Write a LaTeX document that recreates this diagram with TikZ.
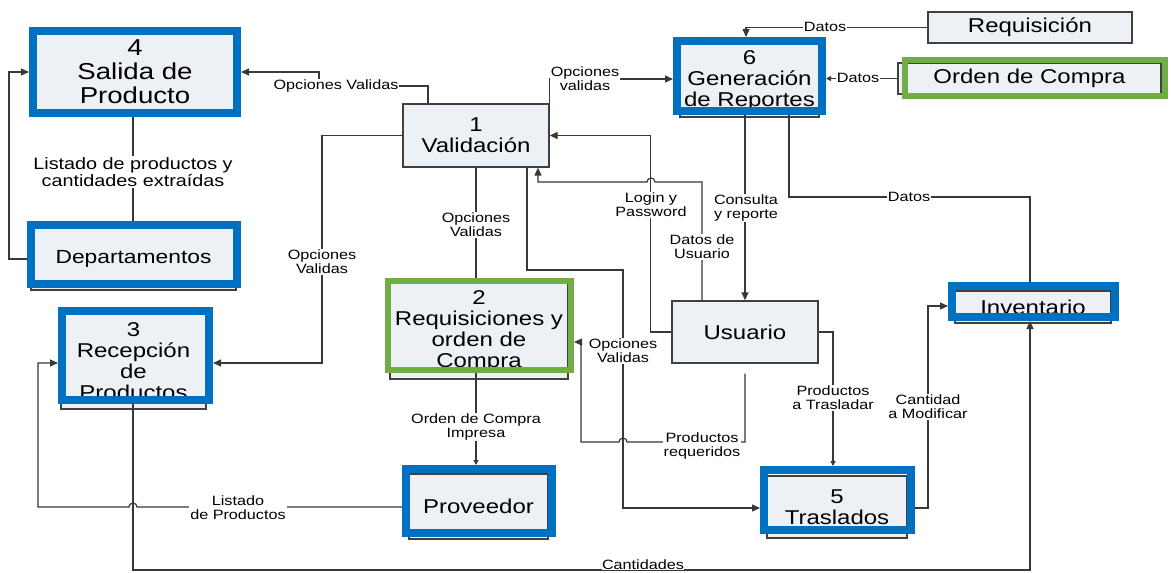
\documentclass[tikz,border=0pt]{standalone}
\usepackage{fontspec}
\setmainfont{Liberation Sans}[FakeStretch=1.2]
\usetikzlibrary{arrows.meta}
\definecolor{framblue}{HTML}{0070C0}
\definecolor{framgreen}{HTML}{70AD47}
\definecolor{boxfill}{HTML}{EDF0F5}
\definecolor{edgec}{HTML}{404040}
\definecolor{linec}{HTML}{383838}
\begin{document}
\begin{tikzpicture}[x=1pt,y=-1pt,
  box/.style={draw=edgec, line width=1.3pt, fill=boxfill, inner sep=0pt, align=center,
              text=black, font=\fontsize{20}{21}\selectfont},
  blueframe/.style={draw=framblue, line width=8pt, inner sep=0pt},
  greenframe/.style={draw=framgreen, line width=6pt, inner sep=0pt},
  line/.style={draw=linec, line width=1.2pt},
  arr/.style={line, -{Triangle[length=8pt,width=7pt]}},
  sarr/.style={line, -{Triangle[length=5pt,width=5pt]}},
  lab/.style={fill=white, inner sep=1pt, align=center, text=black,
              font=\fontsize{13.5}{14}\selectfont},
  biglab/.style={lab, font=\fontsize{16.5}{17}\selectfont},
]
\useasboundingbox (0,0) rectangle (1171,573);
\clip (0,0) rectangle (1171,573);
\fill[white] (0,0) rectangle (1171,573);

% process boxes with their text
\node[box, minimum width=198pt, minimum height=77pt, font=\fontsize{23}{24}\selectfont]
  (b4) at (135,71.5) {4\\Salida de\\Producto};
\node[box, minimum width=205pt, minimum height=62pt, font=\fontsize{19}{21}\selectfont]
  (bdep) at (133.5,259) {Departamentos};
\node[box, minimum width=145pt, minimum height=95pt] (b3) at (133.5,361.5)
  {3\\Recepción\\de\\Productos};
\node[box, minimum width=139pt, minimum height=73pt] (b6) at (749.5,80.5)
  {6\\Generación\\de Reportes};
\node[box, minimum width=156pt, minimum height=32pt] (binv) at (1033,307) {Inventario};
\node[box, minimum width=139pt, minimum height=65pt] (bprov) at (478.5,506.5) {Proveedor};
\node[box, minimum width=140pt, minimum height=62pt] (b5) at (837,507) {5\\Traslados};
\node[box, minimum width=178pt, minimum height=96pt] (b2) at (479,331)
  {2\\Requisiciones y\\orden de\\Compra};
\node[box, minimum width=263pt, minimum height=31pt] (boc) at (1029.5,78.5) {Orden de Compra};

% coloured frames laid over the boxes
\node[blueframe, minimum width=204pt, minimum height=82pt] (n4) at (135,72) {};
\node[blueframe, minimum width=206pt, minimum height=59pt] (dep) at (134,254.5) {};
\node[blueframe, minimum width=147pt, minimum height=89pt] (n3) at (135.5,355.5) {};
\node[blueframe, minimum width=145pt, minimum height=70pt] (n6) at (749.5,76) {};
\node[blueframe, minimum width=163pt, minimum height=31pt] (inv) at (1033.5,301.5) {};
\node[blueframe, minimum width=146pt, minimum height=64pt] (prov) at (479,501) {};
\node[blueframe, minimum width=147pt, minimum height=60pt] (n5) at (837.5,500) {};
\node[greenframe, minimum width=183pt, minimum height=89pt] (n2) at (479.5,325.5) {};
\node[greenframe, minimum width=260pt, minimum height=36pt] (oc) at (1035,78) {};

% plain boxes
\node[box, minimum width=146pt, minimum height=63pt] (val) at (476,135.5) {1\\Validación};
\node[box, minimum width=204pt, minimum height=31pt] (req) at (1030,27.5) {Requisición};
\node[box, minimum width=146pt, minimum height=62pt] (usr) at (745,332) {Usuario};

% data flows
\draw[arr] ([yshift=-4.5pt]dep.west) -- (9,259) |- (n4.west);
\draw[line] (n4.south -| 133,0) -- (dep.north -| 133,0);
\draw[arr] ([xshift=-48pt]val.north) |- (319,86) |- (n4.east);
\draw[arr] ([yshift=22.5pt]val.east) |- ([yshift=-3pt]n6.west);
\draw[arr] (req.west) -| ([xshift=-3.5pt]n6.north);
\draw[sarr] (boc.west) -- (n6.east |- boc.west);
\draw[arr] (n6.south -| usr.north) -- (usr.north);
\draw[line] ([xshift=39.5pt]n6.south) |- (1030,197) -- ([xshift=-3.5pt]inv.north);
\draw[arr] (usr.west) -- ++(-21,0) |- (val.east);
\draw[arr] ([xshift=-43pt]usr.north) |- (655,182)
  arc[start angle=0, end angle=180, radius=4pt] -- (538,182) -- ([xshift=62pt]val.south);
\draw[line] (val.south) -- (val.south |- n2.north);
\draw[arr] ([xshift=51pt]val.south) |- (623,270) |- ([yshift=-8pt]n5.west);
\draw[arr] ([yshift=-10pt]usr.south) |- (627,442)
  arc[start angle=0, end angle=180, radius=4pt] -- (581,442) |- ([yshift=-16.5pt]n2.east);
\draw[sarr] ([xshift=-3.5pt]n2.south) -- ([xshift=-3pt]prov.north);
\draw[arr] ([yshift=-6pt]prov.west) -- (137,507)
  arc[start angle=0, end angle=180, radius=4pt] -- (38,507) |- ([yshift=-7.5pt]n3.west);
\draw[arr] (val.west) -| (322,300) |- ([yshift=-7.5pt]n3.east);
\draw[arr] ([xshift=-2.5pt]n3.south) |- (1030,570) -- ([xshift=-3.5pt]inv.south);
\draw[sarr] (usr.east) -| ([xshift=-4.5pt]n5.north);
\draw[arr] ([yshift=-8pt]n5.east) -| (928,400) |- ([yshift=-4.5pt]inv.west);

% flow labels
\node[biglab] (l1) at (133,172) {Listado de productos y\\cantidades extraídas};
\node[lab] (l2) at (336,86) {Opciones Validas};
\node[lab] (l3) at (585,79) {Opciones\\validas};
\node[lab] (l4) at (825,27) {Datos};
\node[lab] (l5) at (858,78) {Datos};
\node[lab] (l6) at (746,208) {Consulta\\y reporte};
\node[lab] (l7) at (909,197) {Datos};
\node[lab] (l8) at (651,205) {Login y\\Password};
\node[lab] (l9) at (702,247) {Datos de\\Usuario};
\node[lab] (l10) at (476,225) {Opciones\\Validas};
\node[lab] (l11) at (623,351) {Opciones\\Validas};
\node[lab] (l12) at (702,446) {Productos\\requeridos};
\node[lab] (l13) at (476,427) {Orden de Compra\\Impresa};
\node[lab] (l14) at (238,508) {Listado\\de Productos};
\node[lab] (l15) at (322,262) {Opciones\\Validas};
\node[lab, inner sep=0.5pt] (l16) at (643,565) {Cantidades};
\node[lab] (l17) at (833,398) {Productos\\a Trasladar};
\node[lab] (l18) at (928,407) {Cantidad\\a Modificar};
\end{tikzpicture}
\end{document}
